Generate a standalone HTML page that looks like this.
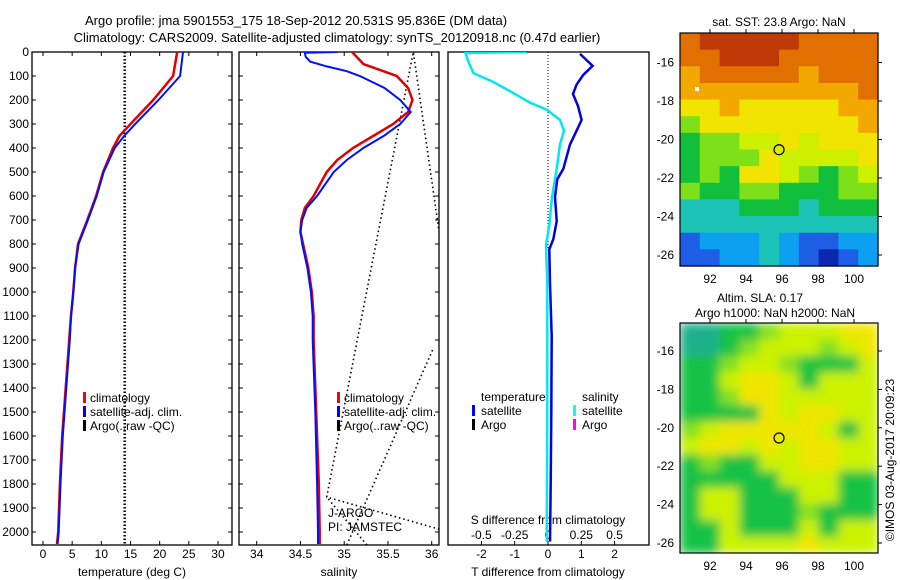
<!DOCTYPE html>
<html><head><meta charset="utf-8"><style>
body{margin:0;background:#fff;}
svg{display:block;font-family:"Liberation Sans",sans-serif;}
text{fill:#000;}
</style></head><body>
<svg id="fig" width="900" height="580" viewBox="0 0 900 580">
<defs>
<clipPath id="c1"><rect x="32" y="52" width="200" height="493"/></clipPath>
<clipPath id="c2"><rect x="239" y="52" width="200" height="493"/></clipPath>
<clipPath id="c3"><rect x="448" y="52" width="201" height="493"/></clipPath>
<clipPath id="cm2"><rect x="680" y="323" width="198" height="230"/></clipPath>
<filter id="blur"><feGaussianBlur stdDeviation="5"/></filter>
</defs>
<text x="296" y="25" font-size="13" text-anchor="middle">Argo profile: jma 5901553_175 18-Sep-2012 20.531S 95.836E (DM data)</text>
<text x="337" y="42" font-size="13" text-anchor="middle">Climatology: CARS2009. Satellite-adjusted climatology: synTS_20120918.nc (0.47d earlier)</text>
<g id="g1"></g>
<g id="g2"></g>
<g id="g3"></g>
<g id="gm1"></g>
<g id="gm2"></g>
<text transform="translate(894,460) rotate(-90)" font-size="12" text-anchor="middle">©IMOS 03-Aug-2017 20:09:23</text>
</svg>
<script>
// ---- data ----
const depthTicks = [0,100,200,300,400,500,600,700,800,900,1000,1100,1200,1300,1400,1500,1600,1700,1800,1900,2000];
const tempTicks = [0,5,10,15,20,25,30];
const salTicks = [34,34.5,35,35.5,36];
const salTickLabels = ["34","34.5","35","35.5","36"];
const tdiffTicks = [-2,-1,0,1,2];
const sdiffTicks = [-0.5,-0.25,0,0.25,0.5];
const sdiffTickLabels = ["-0.5","-0.25","0","0.25","0.5"];

const climTDepth = [0,100,200,300,350,400,500,600,700,800,900,1000,1100,1200,1400,1600,1800,2000,2050];
const climT = [23.0,22.3,18.9,15.0,13.1,12.0,10.3,9.1,7.6,6.0,5.5,5.2,4.8,4.5,3.9,3.3,2.9,2.6,2.4];
const satT = [24.0,23.5,19.8,15.8,13.9,12.3,10.4,9.2,7.7,6.1,5.5,5.2,4.8,4.6,4.0,3.4,3.0,2.7,2.5];
const argoT = [14.0,14.0];
const argoTDepth = [0,2050];

const climSDepth = [0,50,100,150,200,250,300,350,400,450,500,600,650,700,750,800,900,1000,1100,1200,1500,1800,2000,2050];
const climS = [35.09,35.22,35.60,35.73,35.78,35.73,35.56,35.33,35.10,34.92,34.80,34.65,34.55,34.51,34.50,34.53,34.59,34.63,34.65,34.65,34.68,34.71,34.72,34.72];
const satSDepth = [0,3,20,40,60,80,100,150,200,250,300,350,400,450,500,600,650,700,750,800,900,1000,1100,1200,1500,1800,2000,2050];
const satS = [34.92,34.55,34.56,34.61,34.80,35.03,35.18,35.46,35.64,35.76,35.64,35.45,35.22,35.03,34.88,34.69,34.57,34.52,34.50,34.52,34.58,34.62,34.64,34.64,34.67,34.69,34.70,34.70];
const argoSegS = [[36.1,35.79,34.80,36.1],[35.26,34.80],[35.03,36.02]];
const argoSegD = [[790,0,1854,1990],[2054,1854],[2054,1233]];

const tdiffDepth = [8,58,95,136,175,225,283,328,385,487,530,604,705,780,822,966,1184,1500,1800,2040];
const tdiff = [0.96,1.34,1.06,0.86,0.75,0.90,1.01,0.86,0.66,0.46,0.28,0.21,0.26,0.16,0.04,0.06,0.11,0.10,0.08,0.06];
const sdiffDepth = [0,4,37,88,125,168,211,240,283,328,385,487,604,720,806,966,1500,2040];
const sdiff = [-0.16,-0.62,-0.60,-0.56,-0.41,-0.27,-0.135,-0.01,0.09,0.12,0.09,0.065,0.03,0.01,-0.015,-0.005,-0.005,-0.01];

const mapLonTicks = [92,94,96,98,100];
const mapLatTicks = [-16,-18,-20,-22,-24,-26];
const profLon = 95.836, profLat = -20.531;
const sstGrid = [
[9,10,10,10,10,10,9,9,9,9],
[9,9,10,10,10,9,9,9,9,9],
[8,9,9,9,9,9,8,9,9,9],
[8,8,8,8,8,8,8,8,8,9],
[7,7,8,7,7,7,7,7,8,8],
[5,7,7,7,7,7,7,7,7,8],
[4,5,5,6,6,7,6,7,7,7],
[4,5,5,5,7,6,6,6,6,7],
[4,5,4,7,7,6,5,4,5,6],
[5,4,4,5,5,4,4,4,5,5],
[3,3,3,4,4,4,3,4,4,4],
[3,3,3,3,3,3,3,3,3,3],
[1,2,2,2,3,2,1,1,2,2],
[1,1,2,2,3,2,1,0,1,2]];
const slaGrid = [
[0,0,1,1,2,3,3,3,4,4],
[0,0,1,2,3,3,3,2,3,4],
[1,1,2,3,3,2,1,1,1,3],
[1,1,3,4,4,3,1,3,3,3],
[1,1,2,4,4,3,3,3,3,3],
[1,1,1,1,4,3,4,4,3,3],
[2,3,4,4,4,4,4,3,1,3],
[3,4,4,3,4,3,4,4,3,3],
[1,2,1,1,3,3,4,4,3,3],
[1,1,1,1,1,3,3,3,1,1],
[1,3,3,1,1,1,3,3,1,1],
[1,3,3,1,1,1,2,1,1,1],
[1,1,3,1,1,1,3,1,3,3],
[1,1,3,3,3,3,4,3,3,3]];
const sstColors = ["#0a28b0","#1e5ee6","#0ea0f0","#1cc4b8","#12bf3c","#7ee018","#ccf000","#f0e400","#f2a800","#e27000","#c03a08"];
const slaColors = ["#1cb08c","#14c244","#86e020","#ccf200","#f0e600","#f0d400"];

// ---- helpers ----
const NS="http://www.w3.org/2000/svg";
function mk(tag,attrs,parent){const e=document.createElementNS(NS,tag);for(const k in attrs)e.setAttribute(k,attrs[k]);parent.appendChild(e);return e;}
const TOP=52,BOT=545;
const yD=d=>TOP+d*0.24;
const xT=t=>43+t*5.833;
const xS=s=>256.7+(s-34)*87.5;
const xDT=v=>548+v*33.3;
const xDS=v=>548+v*133.2;
function pts(xs,ds,fx){return xs.map((v,i)=>fx(v).toFixed(1)+","+yD(ds[i]).toFixed(1)).join(" ");}

function frame(g,x0,x1,yTicks){
  const r=mk('rect',{x:x0,y:TOP,width:x1-x0,height:BOT-TOP,fill:'none',stroke:'#000','stroke-width':1.3},g);
  
  
  if(yTicks){depthTicks.forEach(d=>{
    const y=yD(d);
    const t1=mk('line',{x1:x0,x2:x0+4,y1:y,y2:y,stroke:'#000'},g);
    
    
    const t2=mk('line',{x1:x1-4,x2:x1,y1:y,y2:y,stroke:'#000'},g);
    
    
  });}
}
function xTicks(g,vals,labels,fx,ly,top){
  vals.forEach((v,i)=>{
    const x=fx(v);
    const t=mk('line',{x1:x,x2:x,y1:BOT-4,y2:BOT,stroke:'#000'},g);
    
    
    if(top){const tt=mk('line',{x1:x,x2:x,y1:TOP,y2:TOP+4,stroke:'#000'},g);
      
      }
    const l=mk('text',{x:x,y:ly,'font-size':12,'text-anchor':'middle'},g);
    l.textContent=labels[i];
    
    
  });
}
function line(g,p,color,w,dash,clip,name){
  const e=mk('polyline',{points:p,fill:'none',stroke:color,'stroke-width':w,'clip-path':'url(#'+clip+')'},g);
  if(dash)e.setAttribute('stroke-dasharray',dash);
  
  
}
function txt(g,x,y,s,name,anchor,size){
  const e=mk('text',{x:x,y:y,'font-size':size||12,'text-anchor':anchor||'start'},g);
  e.textContent=s;
  
  
  return e;
}
function legendMark(g,x,y,color,name){
  const e=mk('rect',{x:x,y:y-10,width:3,height:11,fill:color},g);
  
  
}

// ---- panel 1 ----
const g1=document.getElementById('g1');
frame(g1,32,232,true);
depthTicks.forEach(d=>{txt(g1,29,yD(d)+4,String(d),'y-tick-label','end');});
xTicks(g1,tempTicks,tempTicks.map(String),xT,558,true);
txt(g1,132,576,'temperature (deg C)','x-axis-title','middle');
line(g1,pts(argoT,argoTDepth,xT),'#000',2.5,'1.5,2','c1','argo-temperature-line');
line(g1,pts(climT,climTDepth,xT),'#e00000',2.5,null,'c1','climatology-temperature-line');
line(g1,pts(satT,climTDepth,xT),'#0010ff',2,null,'c1','satellite-temperature-line');
legendMark(g1,83,402,'#ff0000','legend-climatology-mark');
txt(g1,90,402,'climatology','legend-climatology');
legendMark(g1,83,416,'#0000ff','legend-satellite-mark');
txt(g1,90,416,'satellite-adj. clim.','legend-satellite');
legendMark(g1,83,430,'#000','legend-argo-mark');
txt(g1,90,430,'Argo(..raw -QC)','legend-argo');

// ---- panel 2 ----
const g2=document.getElementById('g2');
frame(g2,239,439,true);
xTicks(g2,salTicks,salTickLabels,xS,558,true);
txt(g2,339,576,'salinity','x-axis-title','middle');
argoSegS.forEach((seg,i)=>{line(g2,pts(seg,argoSegD[i],xS),'#000',1.6,'1.5,3','c2','argo-salinity-line');});
line(g2,pts(climS,climSDepth,xS),'#e00000',2.5,null,'c2','climatology-salinity-line');
line(g2,pts(satS,satSDepth,xS),'#0010ff',2,null,'c2','satellite-salinity-line');
legendMark(g2,337,402,'#ff0000','legend-climatology-mark');
txt(g2,344,402,'climatology','legend-climatology');
legendMark(g2,337,416,'#0000ff','legend-satellite-mark');
txt(g2,344,416,'satellite-adj. clim.','legend-satellite');
legendMark(g2,337,430,'#000','legend-argo-mark');
txt(g2,344,430,'Argo(..raw -QC)','legend-argo');
txt(g2,328,517,'J-ARGO','platform-label');
txt(g2,328,531,'PI: JAMSTEC','pi-label');

// ---- panel 3 ----
const g3=document.getElementById('g3');
frame(g3,448,649,false);
xTicks(g3,tdiffTicks,tdiffTicks.map(String),xDT,558,false);
txt(g3,548,576,'T difference from climatology','x-axis-title','middle');
txt(g3,548,524,'S difference from climatology','s-axis-title','middle');
sdiffTicks.forEach((v,i)=>{txt(g3,xDS(v),539,sdiffTickLabels[i],'s-tick-label','middle');});
line(g3,xDT(0)+','+yD(0)+' '+xDT(0)+','+yD(820),'#000',1,'1,2','c3','zero-line');
line(g3,pts(sdiff,sdiffDepth,xDS),'#00e8f0',2.5,null,'c3','salinity-difference-line');
line(g3,pts(tdiff,tdiffDepth,xDT),'#0000e0',2.5,null,'c3','temperature-difference-line');
txt(g3,481,401,'temperature','legend-temperature-heading');
legendMark(g3,472,415,'#0000ff','legend-t-satellite-mark');
txt(g3,481,415,'satellite','legend-t-satellite');
legendMark(g3,472,429,'#000','legend-t-argo-mark');
txt(g3,481,429,'Argo','legend-t-argo');
txt(g3,582,401,'salinity','legend-salinity-heading');
legendMark(g3,573,415,'#00ffff','legend-s-satellite-mark');
txt(g3,582,415,'satellite','legend-s-satellite');
legendMark(g3,573,429,'#ff00ff','legend-s-argo-mark');
txt(g3,582,429,'Argo','legend-s-argo');

// ---- maps ----
const MX0=680,MX1=878;
const lonX=lo=>710+(lo-92)*18;
function drawMap(g,grid,colors,y0,y1,latY,titles,blur){
  const rows=grid.length,cols=grid[0].length,cw=(MX1-MX0)/cols,rh=(y1-y0)/rows;
  const cg=mk('g',blur?{filter:'url(#blur)','clip-path':'url(#cm2)'}:{},g);
  
  
  grid.forEach((row,r)=>row.forEach((v,c)=>{
    const e=mk('rect',{x:MX0+c*cw-(blur?0:0),y:y0+r*rh,width:cw+0.6,height:rh+0.6,fill:colors[v]},cg);
    
    
  }));
  const f=mk('rect',{x:MX0,y:y0,width:MX1-MX0,height:y1-y0,fill:'none',stroke:'#000','stroke-width':1.2},g);
  
  
  mapLatTicks.forEach(la=>{
    const y=latY(la);
    const t=mk('line',{x1:MX1,x2:MX1+4,y1:y,y2:y,stroke:'#000'},g);
    
    
    txt(g,674,y+4,String(la),'lat-tick-label','end');
  });
  mapLonTicks.forEach(lo=>{
    const x=lonX(lo);
    const t=mk('line',{x1:x,x2:x,y1:y0-4,y2:y0,stroke:'#000'},g);
    
    
    txt(g,x,y1+17,String(lo),'lon-tick-label','middle');
  });
  const c=mk('circle',{cx:lonX(profLon),cy:latY(profLat),r:5,fill:'none',stroke:'#000','stroke-width':1.2},g);
  
  
  titles.forEach(t=>txt(g,t[0],t[1],t[2],'map-title','middle'));
}
drawMap(document.getElementById('gm1'),sstGrid,sstColors,33,266,la=>62.5+(-16-la)*19.25,[[779,26,'sat. SST: 23.8 Argo: NaN']],false);
const wp=mk('rect',{x:695,y:87,width:4,height:4,fill:'#fff'},document.getElementById('gm1'));


drawMap(document.getElementById('gm2'),slaGrid,slaColors,323,553,la=>351+(-16-la)*19.2,[[760,302,'Altim. SLA: 0.17'],[775,317,'Argo h1000: NaN h2000: NaN']],true);
</script>
</body></html>
